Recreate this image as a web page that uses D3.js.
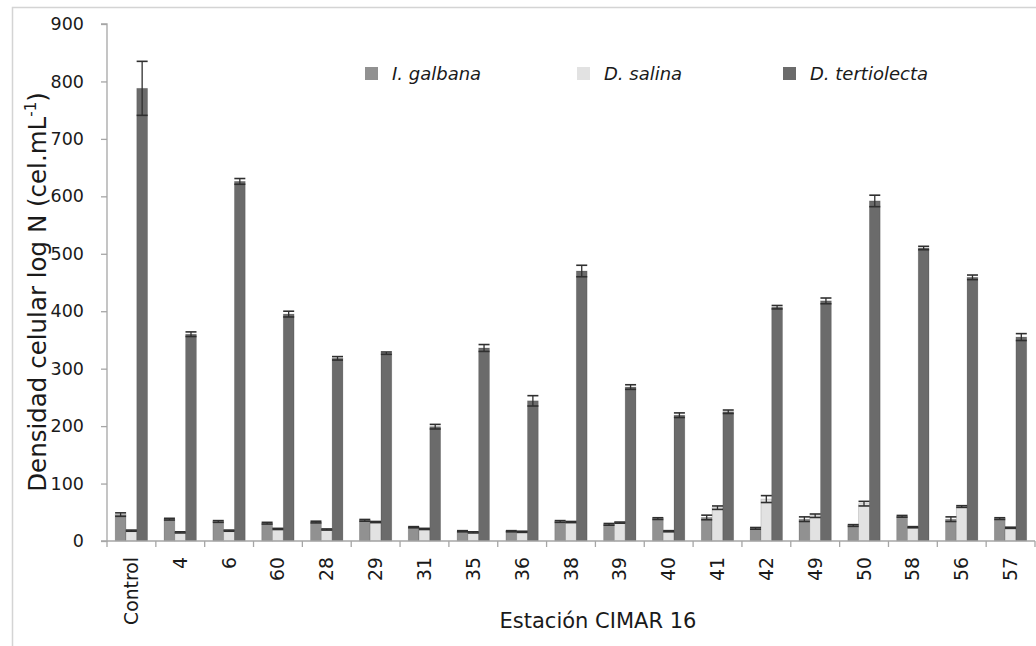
<!DOCTYPE html>
<html>
<head>
<meta charset="utf-8">
<script src="https://cdn.jsdelivr.net/npm/d3@7"></script>
<style>
  html, body { margin: 0; padding: 0; background: #fff; }
  svg { display: block; }
</style>
</head>
<body>
<svg id="chart" width="1036" height="646"></svg>
<script>
const categories = ["Control","4","6","60","28","29","31","35","36","38","39","40","41","42","49","50","58","56","57"];
const seriesNames = ["I. galbana","D. salina","D. tertiolecta"];
const galbana      = [46, 38, 34, 31, 33, 36, 24, 17, 17, 34, 29, 39, 41, 22, 38, 27, 43, 38, 39];
const galbanaErr   = [3, 1.5, 1.5, 1.5, 1.5, 1.5, 1, 1, 1, 1.5, 1.5, 1.5, 4, 1.5, 4, 1.5, 1.5, 4, 1.5];
const salina       = [18, 15, 18, 21, 20, 33, 21, 15, 16, 33, 32, 17, 58, 73, 44, 65, 24, 60, 23];
const salinaErr    = [1, 1, 1, 1, 1, 1, 1, 1, 1, 1, 1, 1, 3, 6, 3, 4, 1, 1.5, 1];
const tertiolecta  = [788, 360, 626, 395, 318, 327, 199, 336, 244, 470, 268, 219, 225, 407, 418, 592, 510, 459, 355];
const tertErr      = [47, 4, 5, 5, 3, 2, 4, 6, 9, 10, 4, 4, 3, 3, 5, 10, 3, 4, 6];
const yTicks = [0, 100, 200, 300, 400, 500, 600, 700, 800, 900];
const colors = ["#919191", "#e2e2e2", "#6b6b6b"];

const values = [galbana, salina, tertiolecta];
const errs = [galbanaErr, salinaErr, tertErr];

const svg = d3.select("#chart");
const plotLeft = 107, plotRight = 1035, plotTop = 24, plotBottom = 541;
const FONT = "DejaVu Sans, Verdana, sans-serif";

// outer border
svg.append("rect").attr("x", 12.5).attr("y", 7.5).attr("width", 1100).attr("height", 700)
  .attr("fill", "none").attr("stroke", "#d4d4d4").attr("stroke-width", 1.5);

const y = d3.scaleLinear().domain([0, 900]).range([plotBottom, plotTop]);
const x0 = d3.scaleBand().domain(categories).range([plotLeft, plotRight]).padding(0);
const bw = x0.bandwidth();
const x1 = d3.scaleBand().domain(seriesNames).range([bw * 0.168, bw * 0.83]).padding(0);

// bars
const groups = svg.append("g").selectAll("g").data(categories).join("g")
  .attr("transform", d => `translate(${x0(d)},0)`);

seriesNames.forEach((s, si) => {
  groups.append("rect")
    .attr("x", (d, i) => x1(s))
    .attr("y", (d, i) => y(values[si][i]))
    .attr("width", x1.bandwidth())
    .attr("height", (d, i) => y(0) - y(values[si][i]))
    .attr("fill", colors[si])
    .attr("stroke", "rgba(0,0,0,0.18)")
    .attr("stroke-width", 0.8);
});

// error bars
seriesNames.forEach((s, si) => {
  const cx = x1(s) + x1.bandwidth() / 2;
  const cap = 5.5;
  groups.each(function(d, i) {
    const g = d3.select(this);
    const v = values[si][i], e = errs[si][i];
    const y1 = y(v + e), y2 = y(v - e);
    g.append("line").attr("x1", cx).attr("x2", cx).attr("y1", y1).attr("y2", y2)
      .attr("stroke", "#2f2f2f").attr("stroke-width", 1.3);
    [y1, y2].forEach(yy => g.append("line").attr("x1", cx - cap).attr("x2", cx + cap)
      .attr("y1", yy).attr("y2", yy).attr("stroke", "#2f2f2f").attr("stroke-width", 1.6));
  });
});

// y axis
const yAxis = d3.axisLeft(y).tickValues(yTicks).tickSize(6).tickPadding(17);
const gy = svg.append("g").attr("transform", `translate(${plotLeft},0)`).call(yAxis);
gy.select(".domain").attr("stroke", "#a6a6a6").attr("stroke-width", 1.3).attr("d", `M-6,${plotTop}H0V${plotBottom}H-6`);
gy.selectAll(".tick line").attr("stroke", "#a6a6a6").attr("stroke-width", 1.3);
gy.selectAll(".tick text").attr("font-family", FONT)
  .attr("font-size", 17.5).attr("fill", "#1a1a1a");

// x axis
const gx = svg.append("g").attr("transform", `translate(0,${plotBottom})`);
gx.append("line").attr("x1", plotLeft).attr("x2", plotRight).attr("y1", 0).attr("y2", 0)
  .attr("stroke", "#a6a6a6").attr("stroke-width", 1.3);
const boundaries = categories.map(c => x0(c)).concat([plotRight]);
gx.selectAll("line.tk").data(boundaries).join("line").attr("class", "tk")
  .attr("x1", d => d).attr("x2", d => d).attr("y1", 0).attr("y2", 6)
  .attr("stroke", "#a6a6a6").attr("stroke-width", 1.3);
gx.selectAll("text").data(categories).join("text")
  .attr("transform", d => `translate(${x0(d) + bw / 2 + 6.5},${16}) rotate(-90)`)
  .attr("text-anchor", "end")
  .attr("font-family", FONT)
  .attr("font-size", 18.8).attr("fill", "#1a1a1a")
  .text(d => d);

// axis titles
const yt = svg.append("text")
  .attr("transform", `translate(46,${292}) rotate(-90)`)
  .attr("text-anchor", "middle")
  .attr("font-family", FONT)
  .attr("font-size", 24.5).attr("fill", "#1a1a1a");
yt.append("tspan").text("Densidad celular log N (cel.mL");
yt.append("tspan").attr("font-size", 15).attr("dy", -10).text("-1");
yt.append("tspan").attr("dy", 10).text(")");

svg.append("text").attr("x", 598).attr("y", 628).attr("text-anchor", "middle")
  .attr("font-family", FONT)
  .attr("font-size", 21).attr("fill", "#1a1a1a")
  .text("Estación CIMAR 16");

// legend
const legendX = [365, 577, 783];
const lg = svg.append("g").selectAll("g").data(seriesNames).join("g")
  .attr("transform", (d, i) => `translate(${legendX[i]},67)`);
lg.append("rect").attr("width", 13).attr("height", 13).attr("fill", (d, i) => colors[i]);
lg.append("text").attr("x", 27).attr("y", 12.5)
  .attr("font-family", FONT)
  .attr("font-style", "italic").attr("font-size", 18).attr("fill", "#1a1a1a")
  .text(d => d);
</script>
</body>
</html>
